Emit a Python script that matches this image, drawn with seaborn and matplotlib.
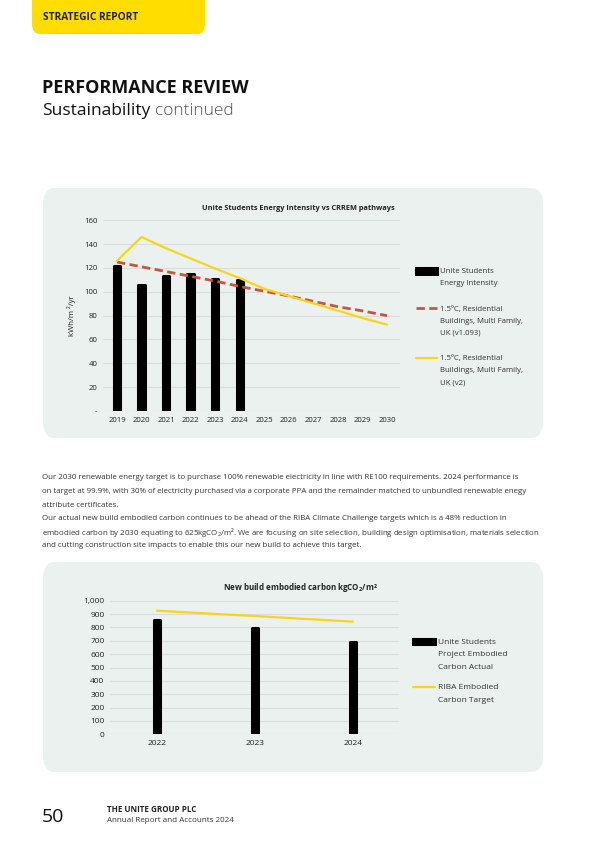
import numpy as np
import pandas as pd
import matplotlib as mpl
mpl.use("Agg")
from matplotlib import pyplot as plt
from matplotlib.patches import FancyBboxPatch
import seaborn as sns

# chart 1: energy intensity vs CRREM pathways
years_1 = [2019, 2020, 2021, 2022, 2023, 2024, 2025, 2026, 2027, 2028, 2029, 2030]
intensity_years = [2019, 2020, 2021, 2022, 2023, 2024]
intensity = [122, 106, 113, 115, 111, 110]
crrem_v1093 = [125, 121, 117, 113, 109, 104.5, 100.5, 96.5, 92, 87.5, 84, 80]
crrem_v2 = [126, 146, 136.5, 128, 119.5, 111.5, 102.5, 96.5, 90.3, 84.2, 78, 72.5]
y_ticks_1 = [0, 20, 40, 60, 80, 100, 120, 140, 160]
y_ticklabels_1 = ["-", "20", "40", "60", "80", "100", "120", "140", "160"]

# chart 2: embodied carbon
years_2 = [2022, 2023, 2024]
embodied_actual = [855, 795, 690]
riba_target = [925, 885, 843]
y_ticks_2 = [0, 100, 200, 300, 400, 500, 600, 700, 800, 900, 1000]

YELLOW = "#F7D51D"
RED = "#C8553D"
PANEL = "#EAF1EE"
GRID = "#D9DDDB"
TXT = "#222222"

sns.set_theme(style="white")
plt.rcParams["font.family"] = ["Open Sans", "DejaVu Sans"]

fig = plt.figure(figsize=(6, 8.48), dpi=100)
W, H = 600, 848


def fx(px):
    return px / W


def fy(py):
    return 1 - py / H


# header tab
fig.add_artist(FancyBboxPatch((fx(32), fy(34)), fx(173), 34 / H + 0.02,
                              boxstyle="round,pad=0,rounding_size=0.012",
                              transform=fig.transFigure, fc="#FFDD00", ec="none"))
fig.text(fx(43), fy(18), "STRATEGIC REPORT", fontsize=7.3, weight="bold",
         color=TXT, va="center")
fig.text(fx(42), fy(88), "PERFORMANCE REVIEW", fontsize=13, weight="bold",
         color="#111111", va="center")
fig.text(fx(42), fy(111), "Sustainability", fontsize=12.5, color="#111111", va="center")
fig.text(fx(155), fy(111), "continued", fontsize=12.5, color="#555555", va="center",
         weight="light")

# panels
for top, bottom in [(188, 438), (562, 772)]:
    fig.add_artist(FancyBboxPatch((fx(43), fy(bottom)), fx(500), (bottom - top) / H,
                                  boxstyle="round,pad=0,rounding_size=0.02",
                                  transform=fig.transFigure, fc=PANEL, ec="none",
                                  zorder=0))

# body text
para1 = ["Our 2030 renewable energy target is to purchase 100% renewable electricity in line with RE100 requirements. 2024 performance is",
         "on target at 99.9%, with 30% of electricity purchased via a corporate PPA and the remainder matched to unbundled renewable enegy",
         "attribute certificates."]
para2 = ["Our actual new build embodied carbon continues to be ahead of the RIBA Climate Challenge targets which is a 48% reduction in",
         r"embodied carbon by 2030 equating to 625kgCO$\mathregular{_2}$/m². We are focusing on site selection, building design optimisation, materials selection",
         "and cutting construction site impacts to enable this our new build to achieve this target."]
for i, line in enumerate(para1):
    fig.text(fx(42), fy(478 + 13.5 * i), line, fontsize=5.65, color="#333333", va="center")
for i, line in enumerate(para2):
    fig.text(fx(42), fy(519 + 13.3 * i), line, fontsize=5.65, color="#333333", va="center")

# footer
fig.text(fx(42), fy(817), "50", fontsize=14, color="#111111", va="center")
fig.text(fx(107), fy(810), "THE UNITE GROUP PLC", fontsize=5.8, weight="bold",
         color=TXT, va="center")
fig.text(fx(107), fy(821), "Annual Report and Accounts 2024", fontsize=5.8,
         color="#333333", va="center")


def style_axis(ax, size):
    ax.set_facecolor("none")
    sns.despine(ax=ax, left=True, bottom=True)
    ax.grid(axis="y", color=GRID, lw=0.8)
    ax.set_axisbelow(True)
    ax.tick_params(axis="both", length=0, labelsize=size, colors=TXT, pad=4)
    ax.set_xlabel("")
    ax.set_ylabel("")


def round_bars(ax):
    for p in ax.patches:
        p.set_edgecolor("black")
        p.set_linewidth(2.2)
        p.set_joinstyle("round")


def make_legend(ax, anchor, size, spacing, linespacing, hlen):
    h, l = ax.get_legend_handles_labels()
    # bars first, then the lines
    h = h[-1:] + h[:-1]
    l = l[-1:] + l[:-1]
    leg = ax.legend(h, l, loc="upper left", bbox_to_anchor=anchor, frameon=False,
                    fontsize=size, labelcolor="#333333", handlelength=hlen,
                    handletextpad=0.4, labelspacing=spacing)
    for t in leg.get_texts():
        t.set_linespacing(linespacing)
    # put the handle next to the first line of each label
    for col in leg._legend_handle_box.get_children():
        for item in col.get_children():
            item.align = "top"
    return leg


# ---- chart 1 ----
ax1 = fig.add_axes([fx(103), fy(411), fx(297), (411 - 220.3) / H])
bars1 = pd.DataFrame({"year": intensity_years, "value": intensity})
lines1 = pd.DataFrame({"year": years_1, "v1093": crrem_v1093, "v2": crrem_v2})
sns.barplot(data=bars1, x="year", y="value", native_scale=True, width=0.26,
            color="black", saturation=1, ax=ax1, label="Unite Students\nEnergy Intensity")
round_bars(ax1)
sns.lineplot(data=lines1, x="year", y="v1093", color=RED, lw=2, dashes=(3, 1.6),
             ax=ax1, label="1.5ºC, Residential\nBuildings, Multi Family,\nUK (v1.093)")
sns.lineplot(data=lines1, x="year", y="v2", color=YELLOW, lw=1.6, ax=ax1,
             label="1.5ºC, Residential\nBuildings, Multi Family,\nUK (v2)")
style_axis(ax1, 5.6)
ax1.set_xlim(2018.43, 2030.53)
ax1.set_ylim(0, 160)
ax1.set_xticks(years_1)
ax1.set_xticklabels([str(y) for y in years_1])
ax1.set_yticks(y_ticks_1)
ax1.set_yticklabels(y_ticklabels_1)
ax1.set_ylabel("kWh/m ²/yr", fontsize=5.6, color=TXT, labelpad=6)
fig.text(fx(298), fy(209), "Unite Students Energy Intensity vs CRREM pathways",
         fontsize=5.3, weight="bold", color=TXT, ha="center", va="center")
make_legend(ax1, (1.03, 0.786), 5.6, 2.4, 2.0, 2.7)

# ---- chart 2 ----
ax2 = fig.add_axes([fx(110), fy(734.3), fx(289), (734.3 - 600.7) / H])
bars2 = pd.DataFrame({"year": years_2, "value": embodied_actual})
lines2 = pd.DataFrame({"year": years_2, "target": riba_target})
sns.barplot(data=bars2, x="year", y="value", native_scale=True, width=0.07,
            color="black", saturation=1, ax=ax2,
            label="Unite Students\nProject Embodied\nCarbon Actual")
round_bars(ax2)
sns.lineplot(data=lines2, x="year", y="target", color=YELLOW, lw=1.6, ax=ax2,
             label="RIBA Embodied\nCarbon Target")
style_axis(ax2, 6.0)
ax2.set_xlim(2021.52, 2024.47)
ax2.set_ylim(0, 1000)
ax2.set_xticks(years_2)
ax2.set_xticklabels([str(y) for y in years_2])
ax2.set_yticks(y_ticks_2)
ax2.set_yticklabels([f"{v:,}" for v in y_ticks_2])
fig.text(fx(300), fy(588), r"New build embodied carbon kgCO$\mathregular{_2}$/m²",
         fontsize=5.8, weight="bold", color=TXT, ha="center", va="center")
make_legend(ax2, (1.024, 0.772), 6.0, 1.65, 2.1, 2.6)

fig.savefig("out.png", dpi=100)
